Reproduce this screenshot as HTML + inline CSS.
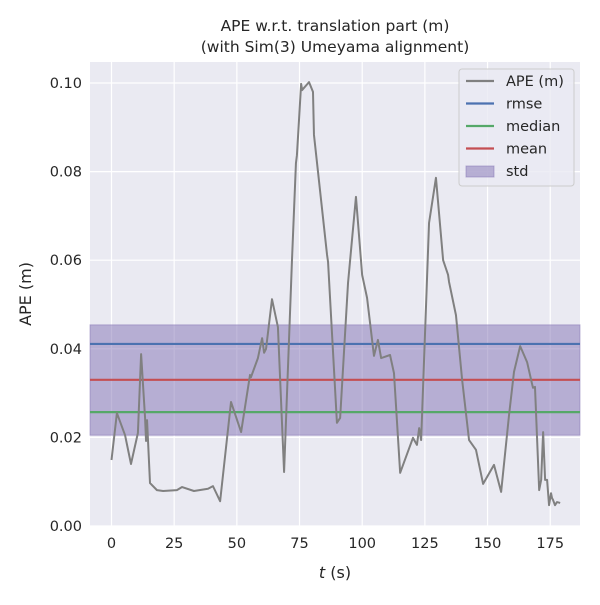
<!DOCTYPE html>
<html><head><meta charset="utf-8"><style>
body{margin:0;background:#fff;font-family:"Liberation Sans","DejaVu Sans",sans-serif}
text{font-family:"DejaVu Sans","Liberation Sans",sans-serif}
</style></head><body>
<svg id="chart" width="600" height="600" xmlns="http://www.w3.org/2000/svg"></svg>
<script>
const times=[0,2.16,5.41,7.77,10.53,11.81,13.39,13.78,14.18,15.36,18.12,20.58,26.09,28.16,32.89,38.5,40.47,43.33,47.67,51.7,55.25,55.64,58.4,60.08,60.86,61.65,64.02,66.38,68.84,71.99,73.57,73.96,75.64,76.03,78.79,80.37,80.76,85.98,86.38,89.92,91.2,94.35,97.51,99.97,101.94,104.7,106.27,107.55,111.1,112.68,115.14,120.26,121.84,122.72,123.51,126.66,129.42,132.28,134.25,134.64,137.4,139.86,142.62,145.38,148.23,152.57,155.42,158.58,160.55,163.01,165.77,167.74,168.13,168.92,170.59,171.38,172.17,172.96,173.75,174.53,175.32,175.72,176.11,176.9,177.69,178.97];
const ape=[0.0149,0.0255,0.0205,0.0140,0.0210,0.0388,0.0244,0.0192,0.0239,0.0097,0.0081,0.0079,0.0081,0.0088,0.0079,0.0084,0.0090,0.0056,0.0280,0.0212,0.0341,0.0336,0.0379,0.0424,0.0391,0.0400,0.0512,0.0449,0.0122,0.0600,0.0819,0.0837,0.0998,0.0984,0.1002,0.0980,0.0883,0.0612,0.0596,0.0233,0.0244,0.0549,0.0743,0.0567,0.0515,0.0384,0.0420,0.0379,0.0386,0.0345,0.0120,0.0199,0.0183,0.0221,0.0194,0.0684,0.0786,0.0600,0.0567,0.0551,0.0476,0.0330,0.0194,0.0172,0.0095,0.0138,0.0077,0.0251,0.0348,0.0406,0.0370,0.0321,0.0312,0.0314,0.0081,0.0104,0.0212,0.0104,0.0104,0.0047,0.0074,0.0063,0.0059,0.0047,0.0054,0.0052];
const stats=[0.0411,0.0257,0.0330];
const statNames=["rmse","median","mean"];
const stdBand=[0.0205,0.0454];
const xTicks=[0,25,50,75,100,125,150,175];
const yTicks=[0.00,0.02,0.04,0.06,0.08,0.10];

const svg=document.getElementById('chart');
const NS='http://www.w3.org/2000/svg';
const L=90,R=580,T=62,B=526;
const X=t=>111.5+t*2.507;
const Y=v=>526-v*4430;
function el(tag,attrs,parent){const e=document.createElementNS(NS,tag);for(const k in attrs)e.setAttribute(k,attrs[k]);(parent||svg).appendChild(e);return e;}
let e=el('rect',{x:L,y:T,width:R-L,height:B-T,fill:'#eaeaf2'});


xTicks.forEach(t=>{
 let g=el('line',{x1:X(t),x2:X(t),y1:T,y2:B,stroke:'#fff','stroke-width':1.2});
 
 
 let tx=el('text',{x:X(t),y:B+22,'text-anchor':'middle','font-size':14.5,fill:'#262626'});
 tx.textContent=t;
 
 
});
yTicks.forEach(v=>{
 let g=el('line',{x1:L,x2:R,y1:Y(v),y2:Y(v),stroke:'#fff','stroke-width':1.2});
 
 
 let tx=el('text',{x:L-8,y:Y(v)+5,'text-anchor':'end','font-size':14.5,fill:'#262626'});
 tx.textContent=v.toFixed(2);
 
 
});
e=el('rect',{x:L,y:Y(stdBand[1]),width:R-L,height:Y(stdBand[0])-Y(stdBand[1]),fill:'#8172b3','fill-opacity':0.5,stroke:'#8172b3','stroke-opacity':0.5});


const cols=['#4c72b0','#55a868','#c44e52'];
stats.forEach((v,i)=>{
 let l=el('line',{x1:L,x2:R,y1:Y(v),y2:Y(v),stroke:cols[i],'stroke-width':2.2});
 
 
});
e=el('polyline',{points:times.map((t,i)=>X(t)+','+Y(ape[i])).join(' '),fill:'none',stroke:'#808080','stroke-width':2,'stroke-linejoin':'round'});


[['APE w.r.t. translation part (m)',31],['(with Sim(3) Umeyama alignment)',52]].forEach(([s,y],i)=>{
 let t=el('text',{x:335,y:y,'text-anchor':'middle','font-size':15.5,fill:'#262626'});t.textContent=s;
 
 
});
e=el('text',{x:335,y:578,'text-anchor':'middle','font-size':16,fill:'#262626'});
e.innerHTML='<tspan font-style="italic">t</tspan> (s)';


e=el('text',{x:31,y:294,'text-anchor':'middle','font-size':16,fill:'#262626',transform:'rotate(-90 31 294)'});
e.textContent='APE (m)';


const lg=el('g',{});


el('rect',{x:459,y:69,width:115,height:117,rx:3,fill:'#eaeaf2','fill-opacity':0.8,stroke:'#ccc'},lg);
const entries=[['APE (m)','#808080'],['rmse',cols[0]],['median',cols[1]],['mean',cols[2]],['std','band']];
entries.forEach(([n,c],i)=>{
 const y=81+i*22.5;
 const g=el('g',{},lg);
 
 
 if(c==='band') el('rect',{x:466,y:y-5,width:28,height:11,fill:'#8172b3','fill-opacity':0.5,stroke:'#8172b3','stroke-opacity':0.5},g);
 else el('line',{x1:466,x2:494,y1:y,y2:y,stroke:c,'stroke-width':2.2},g);
 const t=el('text',{x:506,y:y+5,'font-size':14.5,fill:'#262626'},g);t.textContent=n;
});
</script>
</body></html>
